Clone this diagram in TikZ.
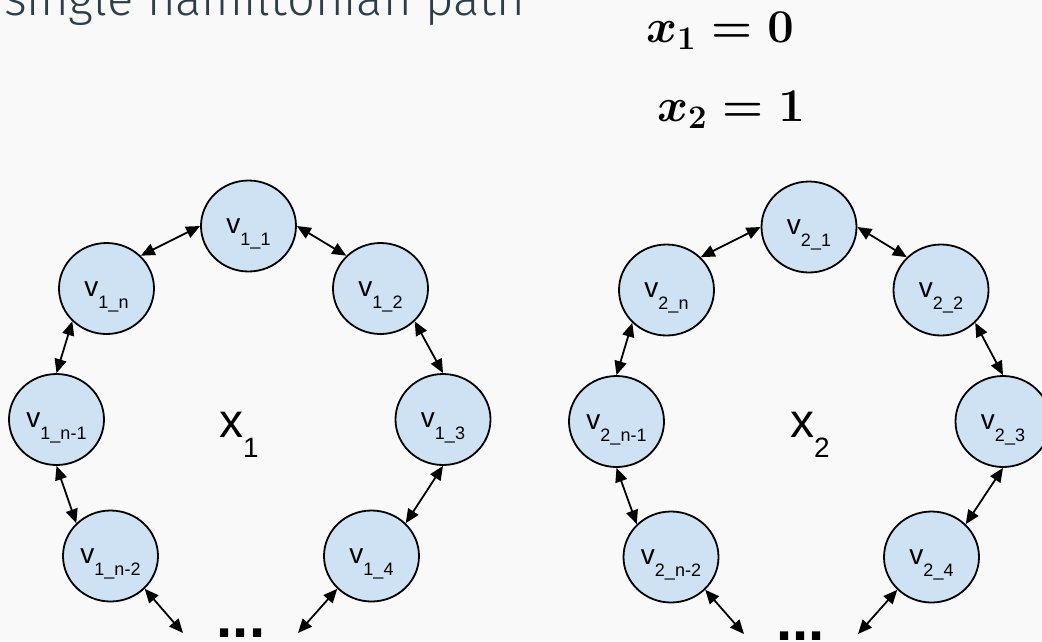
\RequirePackage{fix-cm}
\documentclass[tikz,border=0pt]{standalone}
\usepackage[no-math]{fontspec}
\setmainfont{Liberation Sans}
\IfFontExistsTF{Fira Sans Light}{\newfontfamily\titlefont{Fira Sans Light}}{\newfontfamily\titlefont{Fira Sans}}
\usepackage{tikz}
\usetikzlibrary{shapes.geometric, arrows.meta}
\definecolor{nodeblue}{HTML}{CFE2F3}
\definecolor{pagegrey}{HTML}{F9F9F9}
\definecolor{titlegrey}{HTML}{2F3E46}
\newcommand{\vlab}[1]{v\raisebox{-12pt}{\fontsize{18}{18}\selectfont #1}}
\newcommand{\xlab}[1]{x\raisebox{-20pt}{\fontsize{28}{28}\selectfont #1}}

\begin{document}
\begin{tikzpicture}[x=1pt, y=-1pt,
        vert/.style={ellipse, draw=black, line width=1.8pt, fill=nodeblue, minimum width=95pt, minimum height=91pt, inner sep=0pt, text height=20pt, text depth=5pt, font=\fontsize{28}{28}\selectfont},
        link/.style={line width=1.8pt, {Triangle[length=14pt,width=12pt]}-{Triangle[length=14pt,width=12pt]}},
        dots/.style={anchor=base, inner sep=0pt, font=\fontsize{58}{58}\selectfont\bfseries}]
                \fill[pagegrey] (0,0) rectangle (1042,641);
                \useasboundingbox (0,0) rectangle (1042,641);
                \clip (0,0) rectangle (1042,641);
                \node[anchor=base west, inner sep=0pt, text=titlegrey, font=\titlefont\fontsize{49}{49}\selectfont] (title) at (4,15) {single hamiltonian path};
                \node[anchor=base west, inner sep=0pt, font=\fontsize{47}{47}\selectfont\boldmath] (val1) at (646,42) {$x_1 = 0$};
                \node[anchor=base west, inner sep=0pt, font=\fontsize{47}{47}\selectfont\boldmath] (val2) at (657,121) {$x_2 = 1$};
                % first cycle
                \node[vert] (v11) at (248.5,226) {\vlab{1\_1}};
                \node[vert] (v12) at (380.5,288.5) {\vlab{1\_2}};
                \node[vert] (v13) at (443,419.5) {\vlab{1\_3}};
                \node[vert] (v14) at (371.5,556) {\vlab{1\_4}};
                \node[vert] (v1n) at (106.5,288.5) {\vlab{1\_n}};
                \node[vert] (v1nm1) at (56.5,419.5) {\vlab{1\_n-1}};
                \node[vert] (v1nm2) at (110.5,556) {\vlab{1\_n-2}};
                \node[anchor=base, inner sep=0pt, font=\fontsize{48}{48}\selectfont] (x1) at (239,437) {\xlab{1}};
                \node[dots] (dots1) at (241,637) {...};
                \coordinate (e1l) at (183,633);
                \coordinate (e1r) at (298,633);
                \draw[link] (v11.west) -- (v1n.north east);
                \draw[link] (v11.east) -- (v12.north west);
                \draw[link] (v12.south east) -- (v13.north);
                \draw[link] (v13.south) -- (v14.north east);
                \draw[link] (v14.south west) -- (e1r);
                \draw[link] (v1n.south west) -- (v1nm1.north);
                \draw[link] (v1nm1.south) -- (v1nm2.north west);
                \draw[link] (v1nm2.south east) -- (e1l);
                % second cycle
                \node[vert] (v21) at (809,227) {\vlab{2\_1}};
                \node[vert] (v22) at (941,290) {\vlab{2\_2}};
                \node[vert] (v23) at (1003,421.5) {\vlab{2\_3}};
                \node[vert] (v24) at (931.5,557) {\vlab{2\_4}};
                \node[vert] (v2n) at (666.5,290) {\vlab{2\_n}};
                \node[vert] (v2nm1) at (616.5,421.5) {\vlab{2\_n-1}};
                \node[vert] (v2nm2) at (671,557) {\vlab{2\_n-2}};
                \node[anchor=base, inner sep=0pt, font=\fontsize{48}{48}\selectfont] (x2) at (810,437) {\xlab{2}};
                \node[dots] (dots2) at (800.5,640) {...};
                \coordinate (e2l) at (744,634);
                \coordinate (e2r) at (858,634);
                \draw[link] (v21.west) -- (v2n.north east);
                \draw[link] (v21.east) -- (v22.north west);
                \draw[link] (v22.south east) -- (v23.north);
                \draw[link] (v23.south) -- (v24.north east);
                \draw[link] (v24.south west) -- (e2r);
                \draw[link] (v2n.south west) -- (v2nm1.north);
                \draw[link] (v2nm1.south) -- (v2nm2.north west);
                \draw[link] (v2nm2.south east) -- (e2l);
\end{tikzpicture}
\end{document}
